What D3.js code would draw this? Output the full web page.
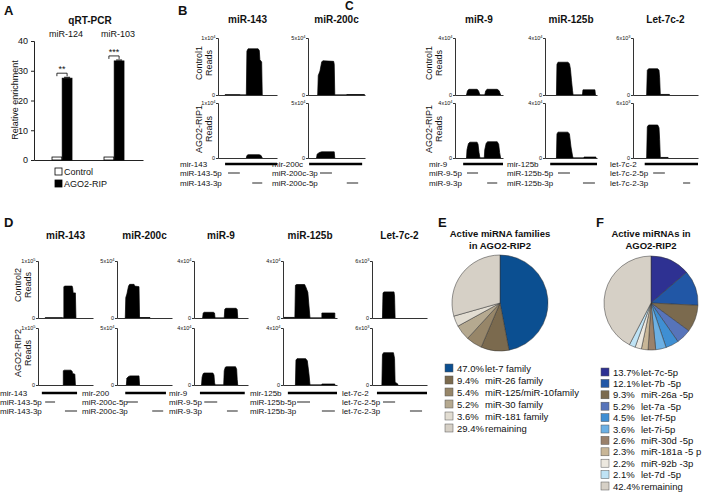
<!DOCTYPE html>
<html><head><meta charset="utf-8">
<script src="https://cdn.jsdelivr.net/npm/d3@7"></script>
<style>body{margin:0;background:#fff}svg{display:block}text{font-family:"Liberation Sans",Arial,sans-serif;fill:#111}</style>
</head><body><svg id="c" width="709" height="492"></svg>
<script>
// ---------- Panel A data ----------
const enrichGenes = ["miR-124", "miR-103"];
const enrichSeries = ["Control", "AGO2-RIP"];
const enrichControl = [1.0, 1.0];
const enrichRIP = [27.5, 33.3];
const enrichErr = [0.3, 0.3];
const enrichSig = ["**", "***"];
const enrichTicks = [0, 10, 20, 30, 40];

// ---------- Read coverage profiles: [position, reads] ----------
const b143Ctrl = [[12,0],[12,60],[37,60],[37,0],[48,0],[49,7700],[51,8100],[68,8100],[70,7800],[71,6200],[74,5800],[75,0]];
const b143Rip  = [[48,0],[49,450],[51,600],[70,600],[73,450],[75,0]];
const b200Ctrl = [[17,0],[18,17000],[21,21000],[24,29000],[26,30000],[45,29500],[46,27000],[47,0],[68,0],[68,400],[99,400],[99,0]];
const b200Rip  = [[15,0],[16,3500],[20,5000],[24,5600],[46,5600],[47,0]];
const c9Ctrl   = [[24,0],[26,3000],[29,4000],[46,4000],[49,3000],[52,0],[62,0],[64,3000],[67,4000],[88,4000],[92,3000],[95,0]];
const c9Rip    = [[24,0],[25,6000],[28,10500],[31,11500],[46,11500],[48,10000],[50,4000],[52,0],[61,0],[62,6000],[65,10800],[68,11800],[88,11800],[91,10000],[93,4000],[95,0]];
const c125Ctrl = [[22,0],[23,21500],[25,23000],[44,23000],[47,22000],[49,18000],[51,10000],[53,3000],[54,0],[72,0],[73,3600],[96,3600],[97,0]];
const c125Rip  = [[22,0],[23,17500],[25,18800],[44,18800],[47,17500],[50,8000],[53,1500],[54,0],[75,0],[75,700],[98,700],[98,0]];
const c7cCtrl  = [[21,0],[22,2600],[24,2760],[38,2760],[40,2600],[41,1800],[42,60],[56,60],[56,0]];
const c7cRip   = [[21,0],[22,3400],[24,3600],[38,3600],[40,3300],[41,2000],[42,60],[54,60],[54,0]];
const d143Ctrl = [[13,0],[13,500],[44,500],[44,0],[47,0],[47,55000],[49,56000],[62,56000],[63,53000],[64,44000],[68,44000],[69,0]];
const d143Rip  = [[46,0],[46,25000],[48,26000],[60,26000],[62,24000],[63,20000],[67,19000],[68,0]];
const d200Ctrl = [[15,0],[16,18000],[18,21000],[21,28000],[23,29500],[31,29500],[32,28000],[40,27500],[41,0],[41,400],[60,400],[60,0]];
const d200Rip  = [[17,0],[18,6000],[21,7500],[24,8000],[40,8000],[41,0]];
const d9Ctrl   = [[16,0],[17,3500],[19,4000],[36,4000],[38,3500],[39,0],[56,0],[57,6200],[59,6800],[78,6800],[80,6000],[81,0]];
const d9Rip    = [[14,0],[15,5500],[17,8000],[19,8400],[35,8400],[37,7000],[38,2000],[39,0],[55,0],[56,10000],[58,12500],[60,12800],[77,12800],[79,11000],[80,4000],[81,0]];
const d125Ctrl = [[1,0],[1,400],[22,400],[23,23000],[25,23500],[40,23500],[42,22000],[44,20000],[46,18000],[48,9000],[50,0],[72,0],[72,3500],[96,3500],[96,0]];
const d125Rip  = [[23,0],[24,17500],[26,18500],[42,18500],[45,17000],[48,8000],[50,0],[72,0],[72,700],[96,700],[96,0]];
const d7cCtrl  = [[19,0],[20,2650],[22,2750],[40,2750],[41,2300],[42,0]];
const d7cRip   = [[18,0],[19,3200],[21,3400],[39,3400],[41,2800],[42,300],[47,100],[47,0]];

// locus names, y maxima and their labels (mantissa, exponent)
const locusTitles = ["miR-143","miR-200c","miR-9","miR-125b","Let-7c-2"];
const topYMax   = [10000, 50000, 40000, 40000, 6000];
const topYLab   = [["1","4"],["5","4"],["4","4"],["4","4"],["6","3"]];
const botYMax   = [100000, 50000, 40000, 40000, 6000];
const botYLab   = [["1","5"],["5","4"],["4","4"],["4","4"],["6","3"]];

// precursor / arm extents (positions)
const b143Track = [[12,100],[17,37],[58,75]];
const b200Track = [[2,95],[21,42],[68,88]];
const c9Track   = [[17,100],[25,48],[67,88]];
const c125Track = [[10,100],[25,48],[73,96]];
const c7cTrack  = [[18,100],[31,49],[77,88]];
const d143Track = [[7,71],[13,31],[49,71]];
const d200Track = [[15,89],[18,38],[64,84]];
const d9Track   = [[11,94],[19,43],[61,81]];
const d125Track = [[9,100],[26,50],[72,96]];
const d7cTrack  = [[9,100],[20,42],[69,91]];

const b143Labels = ["mir-143","miR-143-5p","miR-143-3p"];
const b200Labels = ["mir-200c","miR-200c-3p","miR-200c-5p"];
const c9Labels   = ["mir-9","miR-9-5p","miR-9-3p"];
const c125Labels = ["mir-125b","miR-125b-5p","miR-125b-3p"];
const c7cLabels  = ["let-7c-2","let-7c-2-5p","let-7c-2-3p"];
const d143Labels = ["mir-143","miR-143-5p","miR-143-3p"];
const d200Labels = ["mir-200","miR-200c-5p","miR-200c-3p"];
const d9Labels   = ["mir-9","miR-9-5p","miR-9-3p"];
const d125Labels = ["mir-125b","miR-125b-5p","miR-125b-3p"];
const d7cLabels  = ["let-7c-2","let-7c-2-5p","let-7c-2-3p"];

// ---------- Pie data ----------
const famValues = [47.0, 9.4, 5.4, 5.2, 3.6, 29.4];
const famPct    = ["47.0%","9.4%","5.4%","5.2%","3.6%","29.4%"];
const famLabels = ["let-7 family","miR-26 family","miR-125/miR-10family","miR-30 family","miR-181 family","remaining"];
const famColors = ["#0b4f91","#7b6a4e","#978669","#b5a990","#e2ddd2","#d6d0c6"];

const mirValues = [13.7, 12.1, 9.3, 5.2, 4.5, 3.6, 2.6, 2.3, 2.2, 2.1, 42.4];
const mirPct    = ["13.7%","12.1%","9.3%","5.2%","4.5%","3.6%","2.6%","2.3%","2.2%","2.1%","42.4%"];
const mirLabels = ["let-7c-5p","let-7b -5p","miR-26a -5p","let-7a -5p","let-7f-5p","let-7i-5p","miR-30d -5p","miR-181a -5 p","miR-92b -3p","let-7d -5p","remaining"];
const mirColors = ["#2e3192","#2157a6","#7b6a4e","#5774ba","#3f8fd3","#6cb0e4","#9a816b","#c8b697","#ece8df","#bfe3f5","#d6d0c6"];

// =================================================================
const svg = d3.select("#c");
svg.append("rect").attr("width",709).attr("height",492).attr("fill","#fff");
const FONT = '"Liberation Sans",Arial,sans-serif';

function txt(x,y,s,size,opts={}){
  const t = svg.append("text").attr("x",x).attr("y",y).attr("font-size",size).text(s);
  if(opts.bold) t.attr("font-weight","bold");
  if(opts.anchor) t.attr("text-anchor",opts.anchor);
  if(opts.rotate) t.attr("transform",`rotate(-90,${x},${y})`);
  return t;
}

// panel letters
txt(4,15,"A",13,{bold:true});
txt(178,15,"B",13,{bold:true});
txt(345,10,"C",12,{bold:true});
txt(4,227,"D",13,{bold:true});
txt(438,227,"E",13,{bold:true});
txt(596,227,"F",13,{bold:true});

// ---------------- Panel A ----------------
(function(){
  const y = d3.scaleLinear().domain([0,40]).range([160,41]);
  const xb = d3.scaleLinear().domain([0,1]).range([34,143]);
  const xg = d3.scaleBand().domain(enrichGenes).range([36,140]);
  const xs = d3.scaleBand().domain(enrichSeries).range([0,20]).paddingInner(0.04);
  const g = svg.append("g");
  const ya = g.append("g").attr("transform","translate(34,0)").call(d3.axisLeft(y).tickValues(enrichTicks).tickSize(3));
  ya.selectAll("text").attr("font-size",9).attr("font-family",FONT).attr("fill","#111");
  ya.selectAll("line,path").attr("stroke","#222");
  const xa = g.append("g").attr("transform","translate(0,160)").call(d3.axisBottom(xb).tickValues([]).tickSizeOuter(0));
  xa.select("path").attr("stroke","#222");
  const vals = [enrichControl, enrichRIP];
  enrichSeries.forEach((s,si)=>{
    g.selectAll(null).data(enrichGenes).enter().append("rect")
      .attr("x",d=>xg(d)+xg.bandwidth()/2-10+xs(s))
      .attr("y",(d,i)=>y(vals[si][i]))
      .attr("width",xs.bandwidth())
      .attr("height",(d,i)=>160-y(vals[si][i]))
      .attr("fill",si===0?"#fff":"#000").attr("stroke","#000").attr("stroke-width",0.8);
  });
  enrichGenes.forEach((gname,i)=>{
    const cx = xg(gname)+xg.bandwidth()/2-10+xs("AGO2-RIP")+xs.bandwidth()/2;
    const c0 = xg(gname)+xg.bandwidth()/2-10+xs("Control")+xs.bandwidth()/2;
    g.append("line").attr("x1",cx-3).attr("x2",cx+3).attr("y1",y(enrichRIP[i]+enrichErr[i])).attr("y2",y(enrichRIP[i]+enrichErr[i])).attr("stroke","#000");
    const by = y(enrichRIP[i]) - 5;
    g.append("path").attr("d",`M${c0},${by+3}V${by}H${cx}V${by+3}`).attr("fill","none").attr("stroke","#000").attr("stroke-width",0.8);
    txt((c0+cx)/2, by-1, enrichSig[i], 9, {anchor:"middle"});
    txt(xg(gname)+xg.bandwidth()/2+4, 37, gname, 9, {anchor:"middle"});
  });
  txt(90,24,"qRT-PCR",10,{bold:true,anchor:"middle"});
  txt(18,100,"Relative enrichment",9,{anchor:"middle",rotate:true});
  enrichSeries.forEach((s,i)=>{
    g.append("rect").attr("x",55).attr("y",168+i*12).attr("width",7).attr("height",7)
      .attr("fill",i===0?"#fff":"#000").attr("stroke","#000").attr("stroke-width",0.8);
    txt(64,175+i*12,s,9);
  });
})();

// ---------------- Coverage panels ----------------
const topRow = {title:23, upper:[38,95], lower:[103,158], track:[164,173,183]};
const botRow = {title:239, upper:[261,318], lower:[328,385], track:[393,402,411]};

function yLabel(x, yTop, L){
  const t = svg.append("text").attr("x",x).attr("y",yTop+2).attr("font-size",5.5).attr("text-anchor","end").attr("fill","#333");
  t.append("tspan").text(L[0]+"x10");
  t.append("tspan").attr("dy",-2).attr("font-size",4).text(L[1]);
}

function drawLocus(row, x0, x1, lx, idx, ctrl, rip, track, labels, ctrlMax, ripMax, ctrlLab, ripLab){
  const x = d3.scaleLinear().domain([0,100]).range([x0,x1]);
  txt((x0+x1)/2, row.title, locusTitles[idx], 10, {bold:true, anchor:"middle"});
  [[ctrl,row.upper,ctrlMax,ctrlLab],[rip,row.lower,ripMax,ripLab]].forEach(([data,yr,ym,lab])=>{
    const y = d3.scaleLinear().domain([0,ym]).range([yr[1],yr[0]]);
    const g = svg.append("g");
    g.append("path").datum(data)
      .attr("d", d3.area().x(d=>x(d[0])).y0(y(0)).y1(d=>y(d[1])))
      .attr("fill","#000").attr("stroke","#000").attr("stroke-width",0.7).attr("stroke-linejoin","round");
    const xa = g.append("g").attr("transform",`translate(0,${y(0)})`).call(d3.axisBottom(x).tickValues([]).tickSizeOuter(0));
    xa.select("path").attr("stroke","#333").attr("stroke-width",1);
    const ya = g.append("g").attr("transform",`translate(${x0},0)`).call(d3.axisLeft(y).tickValues([0,ym]).tickSize(2).tickFormat(()=>""));
    ya.selectAll("path,line").attr("stroke","#333");
    yLabel(x0-2.5, y(ym), lab);
    g.append("text").attr("x",x0-3).attr("y",y(0)+2).attr("font-size",5.5).attr("text-anchor","end").attr("fill","#333").text("0");
  });
  const ty = row.track;
  svg.append("line").attr("x1",x(track[0][0])).attr("x2",x(track[0][1])).attr("y1",ty[0]).attr("y2",ty[0]).attr("stroke","#000").attr("stroke-width",2.4);
  [1,2].forEach(k=>{
    svg.append("line").attr("x1",x(track[k][0])).attr("x2",x(track[k][1])).attr("y1",ty[k]).attr("y2",ty[k]).attr("stroke","#777").attr("stroke-width",1.6);
  });
  labels.forEach((s,k)=>txt(lx, ty[k]+3, s, 8));
}

drawLocus(topRow,218,277,180,0,b143Ctrl,b143Rip,b143Track,b143Labels,topYMax[0],topYMax[0],topYLab[0],topYLab[0]);
drawLocus(topRow,308,365,272,1,b200Ctrl,b200Rip,b200Track,b200Labels,topYMax[1],topYMax[1],topYLab[1],topYLab[1]);
drawLocus(topRow,455,503,429,2,c9Ctrl,c9Rip,c9Track,c9Labels,topYMax[2],topYMax[2],topYLab[2],topYLab[2]);
drawLocus(topRow,545,597,507,3,c125Ctrl,c125Rip,c125Track,c125Labels,topYMax[3],topYMax[3],topYLab[3],topYLab[3]);
drawLocus(topRow,633,698,610,4,c7cCtrl,c7cRip,c7cTrack,c7cLabels,topYMax[4],topYMax[4],topYLab[4],topYLab[4]);

drawLocus(botRow,38,93,0,0,d143Ctrl,d143Rip,d143Track,d143Labels,botYMax[0],botYMax[0],botYLab[0],botYLab[0]);
drawLocus(botRow,117,172,82,1,d200Ctrl,d200Rip,d200Track,d200Labels,botYMax[1],botYMax[1],botYLab[1],botYLab[1]);
drawLocus(botRow,194,248,169,2,d9Ctrl,d9Rip,d9Track,d9Labels,botYMax[2],botYMax[2],botYLab[2],botYLab[2]);
drawLocus(botRow,283,337,250,3,d125Ctrl,d125Rip,d125Track,d125Labels,botYMax[3],botYMax[3],botYLab[3],botYLab[3]);
drawLocus(botRow,372,427,342,4,d7cCtrl,d7cRip,d7cTrack,d7cLabels,botYMax[4],botYMax[4],botYLab[4],botYLab[4]);

function rowLabel(x, yc, l1){
  txt(x, yc, l1, 9, {anchor:"middle", rotate:true});
  txt(x+10, yc, "Reads", 9, {anchor:"middle", rotate:true});
}
rowLabel(202, 63, "Control1"); rowLabel(202, 129, "AGO2-RIP1");
rowLabel(432, 63, "Control1"); rowLabel(432, 129, "AGO2-RIP1");
rowLabel(21, 285, "Control2"); rowLabel(21, 353, "AGO2-RIP2");

// ---------------- Pies ----------------
function drawPie(cx, cy, r, values, colors, titles, lgX, lgY, lgStep, pct, labels, labOff){
  const pie = d3.pie().sort(null).value(d=>d);
  const arc = d3.arc().innerRadius(0).outerRadius(r);
  const g = svg.append("g").attr("transform",`translate(${cx},${cy})`);
  g.selectAll("path").data(pie(values)).enter().append("path")
    .attr("d",arc).attr("fill",(d,i)=>colors[i]).attr("stroke","#333").attr("stroke-width",0.5);
  titles.forEach((t,i)=>txt(cx, 237+i*12, t, 9.5, {bold:true, anchor:"middle"}));
  values.forEach((v,i)=>{
    const yy = lgY + i*lgStep;
    svg.append("rect").attr("x",lgX).attr("y",yy-4).attr("width",8).attr("height",8)
      .attr("fill",colors[i]).attr("stroke","#555").attr("stroke-width",0.5);
    txt(lgX+12, yy+3.5, pct[i], 9.5);
    txt(lgX+12+labOff, yy+3.5, labels[i], 9.5);
  });
}
drawPie(500, 303, 48, famValues, famColors, ["Active miRNA families","in AGO2-RIP2"], 445, 368, 12, famPct, famLabels, 28);
drawPie(651, 303, 47, mirValues, mirColors, ["Active miRNAs in","AGO2-RIP2"], 601, 372, 11.4, mirPct, mirLabels, 28);
</script></body></html>
